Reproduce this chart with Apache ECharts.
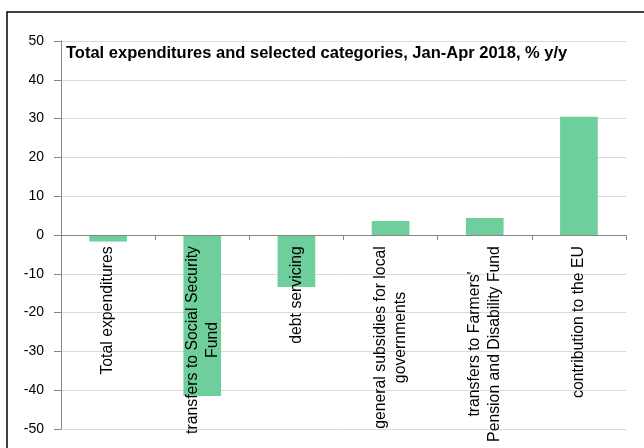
<!DOCTYPE html>
<html><head><meta charset="utf-8">
<script src="https://cdn.jsdelivr.net/npm/echarts@6/dist/echarts.min.js"></script>
<style>html,body{margin:0;padding:0;background:#fff}#c{width:644px;height:448px}</style>
</head><body><div id="c"></div>
<script>
const title = 'Total expenditures and selected categories, Jan-Apr 2018, % y/y';
const categories = [
  'Total expenditures',
  'transfers to Social Security\nFund',
  'debt servicing',
  'general subsidies for local\ngovernments',
  "transfers to Farmers'\nPension and Disability Fund",
  'contribution to the EU'
];
const values = [-1.7, -41.5, -13.4, 3.6, 4.4, 30.5];
const yTicks = {min: -50, max: 50, interval: 10};

const LABEL_FONT = '"Liberation Sans", Arial, sans-serif';
const LABEL_SIZE = 15.8;
const cv = document.createElement('canvas').getContext('2d');
cv.font = LABEL_SIZE + 'px ' + LABEL_FONT;
const rich = {};
categories.forEach((c, i) => {
  const w = Math.max(...c.split('\n').map(s => cv.measureText(s).width));
  rich['c' + i] = {width: Math.ceil(w), align: 'center', fontSize: LABEL_SIZE, fontFamily: LABEL_FONT, color: '#000', lineHeight: 20};
});

const GRID = {left: 61, right: 18, top: 41, bottom: 19};
const plotH = 448 - GRID.top - GRID.bottom;
const zeroFromBottom = plotH * (0 - yTicks.min) / (yTicks.max - yTicks.min);

const chart = echarts.init(document.getElementById('c'), null, {renderer: 'canvas'});
chart.setOption({
  animation: false,
  backgroundColor: '#fff',
  grid: Object.assign({containLabel: false, outerBoundsMode: 'none'}, GRID),
  title: {
    text: title, left: 61, top: 40,
    textStyle: {fontFamily: '"Liberation Sans Narrow", "Arial Narrow", "Liberation Sans", sans-serif', fontWeight: 'bold', fontSize: 16.5, color: '#000'}
  },
  xAxis: {
    type: 'category', data: categories, z: 5,
    axisLine: {onZero: true, lineStyle: {color: '#868686', width: 1}},
    axisTick: {show: true, length: 5, lineStyle: {color: '#868686'}},
    axisLabel: {
      rotate: 90, margin: 11 - zeroFromBottom, interval: 0,
      formatter: function (v, i) {
        return v.split('\n').map(s => '{c' + i + '|' + s + '}').join('\n');
      },
      rich: rich
    },
    splitLine: {show: false}
  },
  yAxis: {
    type: 'value', min: yTicks.min, max: yTicks.max, interval: yTicks.interval,
    axisLine: {show: true, lineStyle: {color: '#868686'}},
    axisTick: {show: true, inside: false, length: 7, lineStyle: {color: '#868686'}},
    axisLabel: {margin: 17, fontSize: 14, fontFamily: LABEL_FONT, color: '#000'},
    splitLine: {show: true, lineStyle: {color: '#D9D9D9', width: 1}}
  },
  series: [{
    type: 'bar', data: values, barWidth: '40%', z: 2,
    itemStyle: {color: '#6FCF9C'}
  }],
  graphic: [{
    type: 'polyline', silent: true,
    shape: {points: [[7, 448], [7, 12], [644, 12]]},
    style: {stroke: '#000', lineWidth: 1.5, fill: null}
  }]
});
</script></body></html>
